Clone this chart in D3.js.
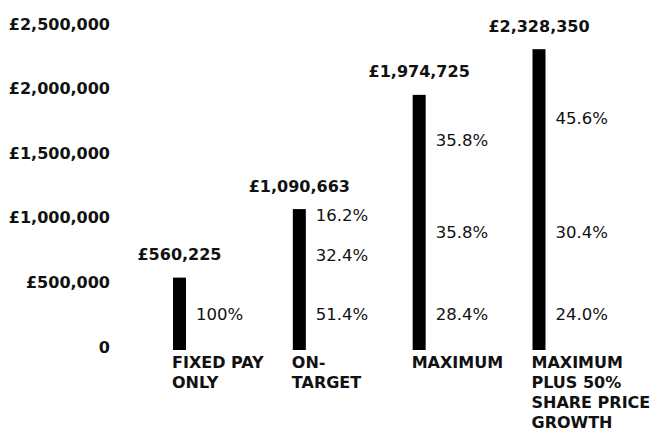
<!DOCTYPE html>
<html>
<head>
<meta charset="utf-8">
<script src="https://cdn.jsdelivr.net/npm/d3@7"></script>
<style>
  html, body { margin: 0; padding: 0; background: #fff; }
  svg { display: block; }
</style>
</head>
<body>
<svg id="chart" width="658" height="434"></svg>
<script>
// Pay scenarios and their totals
const categories = ["FIXED PAY ONLY", "ON-TARGET", "MAXIMUM", "MAXIMUM PLUS 50% SHARE PRICE GROWTH"];
const categoryLines = [["FIXED PAY", "ONLY"], ["ON-", "TARGET"], ["MAXIMUM"], ["MAXIMUM", "PLUS 50%", "SHARE PRICE", "GROWTH"]];
const totals = [560225, 1090663, 1974725, 2328350];
// Share of each total, listed from the bottom segment upward
const shares = [
  [100],
  [51.4, 32.4, 16.2],
  [28.4, 35.8, 35.8],
  [24.0, 30.4, 45.6]
];
const tickValues = [0, 500000, 1000000, 1500000, 2000000, 2500000];
const tickLabels = ["0", "£500,000", "£1,000,000", "£1,500,000", "£2,000,000", "£2,500,000"];

const svg = d3.select("#chart");
const boldFont = "'DejaVu Sans', sans-serif";

const y = d3.scaleLinear().domain([0, 2500000]).range([350, 27]);
const x = d3.scalePoint().domain(categories).range([179.5, 539]);
const barW = 13;

// Y axis: labels only, no line or ticks
const yAxis = d3.axisLeft(y)
  .tickValues(tickValues)
  .tickFormat((d, i) => tickLabels[i])
  .tickSize(0)
  .tickPadding(0);
const gy = svg.append("g").attr("transform", "translate(110,-3)").call(yAxis);
gy.select(".domain").remove();
gy.selectAll("text")
  .attr("font-family", boldFont)
  .attr("font-weight", "bold")
  .attr("font-size", 16)
  .attr("fill", "#111");

// Bars
svg.append("g").selectAll("rect")
  .data(categories)
  .join("rect")
  .attr("x", d => x(d) - barW / 2)
  .attr("width", barW)
  .attr("y", (d, i) => y(totals[i]))
  .attr("height", (d, i) => y(0) - y(totals[i]))
  .attr("fill", "#000");

// Total labels above each bar
const fmt = d3.format(",");
svg.append("g").selectAll("text")
  .data(categories)
  .join("text")
  .attr("x", d => x(d))
  .attr("y", (d, i) => y(totals[i]) - 23)
  .attr("dy", "0.35em")
  .attr("text-anchor", "middle")
  .attr("font-family", boldFont)
  .attr("font-weight", "bold")
  .attr("font-size", 16)
  .attr("fill", "#111")
  .text((d, i) => "£" + fmt(totals[i]));

// Percentage labels at segment midpoints, nudged apart when crowded
const pctData = [];
categories.forEach((c, i) => {
  let acc = 0;
  let prevY = Infinity;
  shares[i].forEach(s => {
    const v0 = acc;
    acc += totals[i] * s / 100;
    let ly = (y(v0) + y(acc)) / 2;
    if (prevY - ly < 40) ly = prevY - 40;
    prevY = ly;
    pctData.push({ c, s, ly });
  });
});
svg.append("g").selectAll("text")
  .data(pctData)
  .join("text")
  .attr("x", d => x(d.c) + barW / 2 + 10)
  .attr("y", d => d.ly)
  .attr("dy", "0.35em")
  .attr("font-family", "'DejaVu Sans', sans-serif")
  .attr("font-size", 16.5)
  .attr("fill", "#111")
  .text(d => (d.s === 100 ? "100" : d.s.toFixed(1)) + "%");

// Category labels under the bars
const cat = svg.append("g").selectAll("text")
  .data(categories)
  .join("text")
  .attr("x", d => x(d) - barW / 2 - 1)
  .attr("y", 362)
  .attr("font-family", boldFont)
  .attr("font-weight", "bold")
  .attr("font-size", 16)
  .attr("fill", "#111");
cat.selectAll("tspan")
  .data((d, i) => categoryLines[i])
  .join("tspan")
  .attr("x", function () { return this.parentNode.getAttribute("x"); })
  .attr("dy", (d, j) => j === 0 ? "0.35em" : 20)
  .text(d => d);
</script>
</body>
</html>
